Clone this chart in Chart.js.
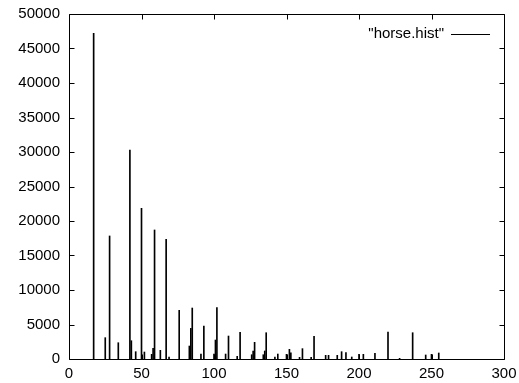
<!DOCTYPE html>
<html>
<head>
<meta charset="utf-8">
<script src="https://cdn.jsdelivr.net/npm/chart.js@4/dist/chart.umd.min.js"></script>
<style>
html,body{margin:0;padding:0;background:#fff;}
#wrap{width:519px;height:383px;position:relative;}
</style>
</head>
<body>
<div id="wrap"><canvas id="c" width="519" height="383"></canvas></div>
<script>
const seriesLabel = '"horse.hist"';
const binX = [17,25,28,34,42,43,46,50,52,57,58,59,63,67,69,76,83,84,85,91,93,100,101,102,108,110,116,118,126,127,128,134,135,136,142,144,150,152,153,159,161,167,169,177,179,185,188,191,195,200,203,211,220,228,237,246,250,255];
const counts = [47200,3090,17830,2360,30290,2650,1060,21840,1010,680,1550,18700,1260,17350,290,7050,1880,4440,7390,720,4780,720,2750,7440,720,3330,390,3870,620,1160,2420,620,1160,3810,290,720,680,1400,910,240,1500,240,3280,530,530,530,1060,920,290,680,680,820,3910,100,3810,580,680,870];
const xTicks = [0,50,100,150,200,250,300];
const yTicks = [0,5000,10000,15000,20000,25000,30000,35000,40000,45000,50000];

const FONT = "15px 'Liberation Sans', Arial, sans-serif";

const framePlugin = {
  id: 'frame',
  afterDraw(chart) {
    const {ctx, chartArea: a, scales} = chart;
    ctx.save();
    ctx.strokeStyle = '#000';
    ctx.lineWidth = 1;
    ctx.beginPath();
    const L = Math.round(a.left)+0.5, R = Math.round(a.right)+0.5, T = Math.round(a.top)+0.5, B = Math.round(a.bottom)+0.5;
    ctx.rect(L, T, R-L, B-T);
    const tl = 5;
    for (const v of yTicks) {
      const y = Math.round(scales.y.getPixelForValue(v))+0.5;
      ctx.moveTo(L, y); ctx.lineTo(L+tl, y);
      ctx.moveTo(R, y); ctx.lineTo(R-tl, y);
    }
    for (const v of xTicks) {
      const x = Math.round(scales.x.getPixelForValue(v))+0.5;
      ctx.moveTo(x, B); ctx.lineTo(x, B-tl);
      ctx.moveTo(x, T); ctx.lineTo(x, T+tl);
    }
    ctx.stroke();
    // legend
    ctx.font = FONT;
    ctx.fillStyle = '#000';
    ctx.textAlign = 'right';
    ctx.textBaseline = 'middle';
    ctx.fillText(seriesLabel, 444, 34);
    ctx.beginPath();
    ctx.moveTo(451, 34.5); ctx.lineTo(490, 34.5);
    ctx.stroke();
    ctx.restore();
  }
};

new Chart(document.getElementById('c'), {
  type: 'bar',
  data: {
    datasets: [{
      label: seriesLabel,
      data: binX.map((x, i) => ({x: x, y: counts[i]})),
      backgroundColor: '#000',
      borderWidth: 0,
      barThickness: 1,
      grouped: false
    }]
  },
  options: {
    responsive: false,
    animation: false,
    events: [],
    layout: {padding: {top: 14, right: 15, left: 0, bottom: 0}},
    plugins: {legend: {display: false}, tooltip: {enabled: false}},
    scales: {
      x: {
        type: 'linear', min: 0, max: 300, offset: false,
        afterBuildTicks: s => { s.ticks = xTicks.map(v => ({value: v})); },
        afterFit: s => { s.height = 24; s.paddingLeft = 0; s.paddingRight = 0; },
        grid: {display: false, drawTicks: false},
        border: {display: false},
        ticks: {color: '#000', font: {family: "'Liberation Sans', Arial, sans-serif", size: 15}, padding: 6, maxRotation: 0, autoSkip: false, callback: v => String(v)}
      },
      y: {
        type: 'linear', min: 0, max: 50000,
        afterBuildTicks: s => { s.ticks = yTicks.map(v => ({value: v})); },
        afterFit: s => { s.width = 69; s.paddingTop = 0; s.paddingBottom = 0; },
        grid: {display: false, drawTicks: false},
        border: {display: false},
        ticks: {color: '#000', font: {family: "'Liberation Sans', Arial, sans-serif", size: 15}, padding: 9, autoSkip: false, callback: v => String(v)}
      }
    }
  },
  plugins: [framePlugin]
});
</script>
</body>
</html>
